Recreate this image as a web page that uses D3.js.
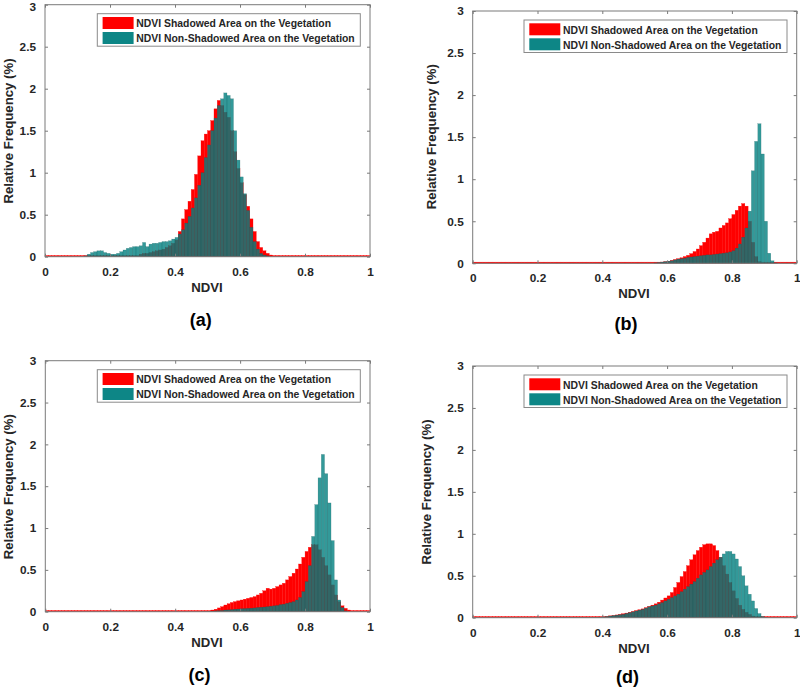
<!DOCTYPE html>
<html><head><meta charset="utf-8">
<script src="https://cdn.jsdelivr.net/npm/d3@7"></script>
<style>body{margin:0;background:#fff}svg{display:block}</style>
</head><body><svg id="chart" width="800" height="689"></svg>
<script>
// ---------- data ----------
const xTicks = [0, 0.2, 0.4, 0.6, 0.8, 1];
const yTicks = [0, 0.5, 1, 1.5, 2, 2.5, 3];
const seriesNames = ["NDVI Shadowed Area on the Vegetation", "NDVI Non-Shadowed Area on the Vegetation"];
const panelLabels = ["(a)", "(b)", "(c)", "(d)"];
const xLabel = "NDVI";
const yLabel = "Relative Frequency (%)";
const binWidth = 0.01; // NDVI bins 0..1, 100 bins

// relative frequency (%) per bin, bin k = [k*0.01, (k+1)*0.01)
const redA = [
 0,0,0,0,0,0,0,0,0,0, 0,0,0,0,0,0,0,0,0,0, 0,0,0,0,0,0,0,0,0.01,0.03,
 0.04,0.04,0.05,0.06,0.07,0.08,0.09,0.11,0.13,0.16,
 0.2,0.3,0.45,0.56,0.66,0.8,0.98,1.2,1.38,1.46,
 1.5,1.62,1.76,1.86,1.8,1.72,1.66,1.5,1.25,1.05,
 0.88,0.74,0.6,0.45,0.3,0.18,0.11,0.07,0.04,0.02,
 0.01,0.005,0,0,0,0,0,0,0,0, 0,0,0,0,0,0,0,0,0,0, 0,0,0,0,0,0,0,0,0,0];
const tealA = [
 0,0,0,0,0,0,0,0,0,0, 0,0,0.01,0.03,0.05,0.06,0.07,0.07,0.05,0.04,
 0.03,0.03,0.04,0.06,0.08,0.1,0.11,0.12,0.12,0.13,
 0.17,0.12,0.15,0.16,0.16,0.17,0.18,0.18,0.19,0.21,
 0.23,0.27,0.32,0.4,0.48,0.58,0.7,0.85,1.0,1.18,
 1.33,1.5,1.65,1.8,1.88,1.95,1.92,1.88,1.5,1.15,
 0.95,0.75,0.55,0.35,0.18,0.09,0.04,0.02,0.01,0,
 0,0,0,0,0,0,0,0,0,0, 0,0,0,0,0,0,0,0,0,0, 0,0,0,0,0,0,0,0,0,0];
const redB = [
 0,0,0,0,0,0,0,0,0,0, 0,0,0,0,0,0,0,0,0,0, 0,0,0,0,0,0,0,0,0,0,
 0,0,0,0,0,0,0,0,0,0, 0,0,0,0,0,0,0,0,0,0,
 0,0,0,0,0,0,0.005,0.01,0.015,0.02,
 0.025,0.035,0.045,0.055,0.065,0.08,0.095,0.115,0.14,0.17,
 0.21,0.25,0.3,0.35,0.37,0.38,0.42,0.45,0.48,0.53,
 0.58,0.63,0.68,0.71,0.68,0.5,0.25,0.08,0.02,0.005,
 0,0,0,0,0,0,0,0,0,0];
const tealB = [
 0,0,0,0,0,0,0,0,0,0, 0,0,0,0,0,0,0,0,0,0, 0,0,0,0,0,0,0,0,0,0,
 0,0,0,0,0,0,0,0,0,0, 0,0,0,0,0,0,0,0,0,0,
 0,0,0,0,0,0,0.005,0.01,0.015,0.02,
 0.025,0.03,0.04,0.05,0.055,0.06,0.07,0.075,0.08,0.085,
 0.09,0.095,0.1,0.1,0.105,0.11,0.115,0.12,0.125,0.135,
 0.15,0.18,0.23,0.31,0.42,0.62,1.1,1.45,1.66,1.3,
 0.5,0.12,0.03,0.005,0,0,0,0,0,0];
const redC = [
 0,0,0,0,0,0,0,0,0,0, 0,0,0,0,0,0,0,0,0,0, 0,0,0,0,0,0,0,0,0,0,
 0,0,0,0,0,0,0,0,0,0, 0,0,0,0,0,0,0,0,0.005,0.008,
 0.012,0.02,0.03,0.045,0.06,0.08,0.095,0.11,0.12,0.13,
 0.14,0.15,0.16,0.17,0.18,0.2,0.22,0.25,0.28,0.27,
 0.28,0.3,0.32,0.34,0.38,0.42,0.46,0.51,0.57,0.65,
 0.72,0.77,0.8,0.8,0.74,0.65,0.55,0.44,0.32,0.2,
 0.12,0.07,0.04,0.02,0.01,0.005,0,0,0,0];
const tealC = [
 0,0,0,0,0,0,0,0,0,0, 0,0,0,0,0,0,0,0,0,0, 0,0,0,0,0,0,0,0,0,0,
 0,0,0,0,0,0,0,0,0,0, 0,0,0,0,0,0,0,0,0.002,0.003,
 0.005,0.007,0.01,0.012,0.015,0.02,0.022,0.025,0.03,0.032,
 0.035,0.037,0.04,0.042,0.045,0.05,0.053,0.056,0.06,0.065,
 0.07,0.075,0.085,0.09,0.1,0.11,0.12,0.14,0.17,0.24,
 0.36,0.55,0.9,1.28,1.6,1.88,1.65,1.3,0.85,0.38,
 0.14,0.05,0.01,0,0,0,0,0,0,0];
const redD = [
 0,0,0,0,0,0,0,0,0,0, 0,0,0,0,0,0,0,0,0.005,0.01,
 0.01,0.006,0.004,0.004,0.004,0.004,0.004,0.004,0.004,0.004,
 0.004,0.004,0.004,0.004,0.004,0.005,0.006,0.007,0.008,0.01,
 0.012,0.017,0.022,0.027,0.033,0.04,0.047,0.055,0.065,0.075,
 0.085,0.095,0.105,0.12,0.135,0.15,0.165,0.185,0.21,0.235,
 0.26,0.3,0.36,0.42,0.49,0.55,0.62,0.69,0.75,0.8,
 0.84,0.87,0.88,0.88,0.86,0.8,0.72,0.62,0.52,0.42,
 0.32,0.23,0.15,0.1,0.065,0.04,0.02,0.01,0.005,0,
 0,0,0,0,0,0,0,0,0,0];
const tealD = [
 0,0,0,0,0,0,0,0,0,0, 0,0,0,0,0,0,0,0,0,0, 0,0,0,0,0.004,0.005,0.005,0.005,0.005,0.005,
 0.005,0.005,0.005,0.005,0.005,0.005,0.006,0.006,0.007,0.008,
 0.01,0.015,0.02,0.025,0.03,0.035,0.04,0.05,0.06,0.07,
 0.08,0.09,0.1,0.115,0.13,0.14,0.15,0.165,0.18,0.2,
 0.22,0.24,0.26,0.28,0.31,0.34,0.37,0.4,0.43,0.47,
 0.51,0.54,0.57,0.61,0.65,0.69,0.72,0.76,0.79,0.79,
 0.76,0.7,0.61,0.5,0.38,0.28,0.2,0.11,0.05,0.015,
 0.005,0,0,0,0,0,0,0,0,0];

const panelData = [[redA, tealA], [redB, tealB], [redC, tealC], [redD, tealD]];

// ---------- layout ----------
const layout = [
 {l:45,    r:370,   t:4.7,   b:256.7, ylx:12.6,  yly:131,   xlx:207, xly:291.7, plx:200.7, ply:326},
 {l:472.7, r:796.7, t:11,    b:263.3, ylx:435.8, yly:136.7, xlx:634, xly:297.7, plx:626,   ply:330},
 {l:45.3,  r:370,   t:360.7, b:611.7, ylx:12.8,  yly:486.7, xlx:207, xly:646.7, plx:199.5, ply:681},
 {l:472.7, r:796.7, t:366,   b:617.7, ylx:430.5, yly:492,   xlx:634, xly:653.3, plx:627.5, ply:683}
];
const colors = {red: "#ff0000", teal: "#008080", axis: "#7a7a7a", text: "#262626"};
const FONT = "'Liberation Sans', Arial, Helvetica, sans-serif";

const svg = d3.select("#chart");

layout.forEach((L, i) => {
  const [red, teal] = panelData[i];
  const x = d3.scaleLinear().domain([0, 1]).range([L.l, L.r]);
  const y = d3.scaleLinear().domain([0, 3]).range([L.b, L.t]);
  const g = svg.append("g");

  // red histogram
  g.append("g").selectAll("rect").data(red).join("rect")
    .attr("x", (d, k) => x(k * binWidth))
    .attr("width", (d, k) => x((k + 1) * binWidth) - x(k * binWidth))
    .attr("y", d => Math.min(y(d), y(0) - 1.2))
    .attr("height", d => Math.max(y(0) - y(d), 1.2))
    .attr("fill", colors.red)
    .attr("stroke", colors.red).attr("stroke-width", 0.3);

  // teal histogram (semi-transparent)
  g.append("g").selectAll("rect").data(teal.map((v, k) => ({v, k})).filter(d => d.v > 0)).join("rect")
    .attr("x", d => x(d.k * binWidth))
    .attr("width", d => x((d.k + 1) * binWidth) - x(d.k * binWidth))
    .attr("y", d => y(d.v))
    .attr("height", d => y(0) - y(d.v))
    .attr("fill", colors.teal).attr("fill-opacity", 0.8)
    .attr("stroke", "#0a5050").attr("stroke-width", 0.35).attr("stroke-opacity", 0.45);

  // box
  g.append("rect").attr("x", L.l).attr("y", L.t)
    .attr("width", L.r - L.l).attr("height", L.b - L.t)
    .attr("fill", "none").attr("stroke", colors.axis).attr("stroke-width", 1);

  // axes (ticks inward, both sides)
  const fmt = d => d3.format("")(d);
  const styleAxis = sel => {
    sel.select(".domain").remove();
    sel.selectAll(".tick line").attr("stroke", colors.axis);
    sel.selectAll(".tick text").attr("fill", colors.text)
      .attr("font-family", FONT).attr("font-weight", "bold").attr("font-size", 11.8);
  };
  g.append("g").attr("transform", `translate(0,${L.b})`)
    .call(d3.axisBottom(x).tickValues(xTicks).tickFormat(fmt).tickSizeInner(-3).tickSizeOuter(0).tickPadding(10.5))
    .call(styleAxis);
  g.append("g").attr("transform", `translate(0,${L.t})`)
    .call(d3.axisTop(x).tickValues(xTicks).tickFormat("").tickSizeInner(-3).tickSizeOuter(0))
    .call(styleAxis);
  const yAx = g.append("g").attr("transform", `translate(${L.l},0)`)
    .call(d3.axisLeft(y).tickValues(yTicks).tickFormat(fmt).tickSizeInner(-3).tickSizeOuter(0).tickPadding(9))
    .call(styleAxis);
  // keep the top label inside the page
  yAx.selectAll(".tick text").filter(d => y(d) < 7).attr("y", d => 7 - y(d));
  g.append("g").attr("transform", `translate(${L.r},0)`)
    .call(d3.axisRight(y).tickValues(yTicks).tickFormat("").tickSizeInner(-3).tickSizeOuter(0))
    .call(styleAxis);

  // axis labels
  g.append("text").attr("x", L.xlx).attr("y", L.xly).attr("text-anchor", "middle")
    .attr("font-family", FONT).attr("font-weight", "bold").attr("font-size", 13.2)
    .attr("fill", colors.text).text(xLabel);
  g.append("text").attr("transform", `translate(${L.ylx},${L.yly}) rotate(-90)`)
    .attr("text-anchor", "middle")
    .attr("font-family", FONT).attr("font-weight", "bold").attr("font-size", 13.2)
    .attr("fill", colors.text).text(yLabel);
  // panel label
  g.append("text").attr("x", L.plx).attr("y", L.ply).attr("text-anchor", "middle")
    .attr("font-family", FONT).attr("font-weight", "bold").attr("font-size", 18)
    .attr("fill", "#000").text(panelLabels[i]);

  // legend
  const lw = 263, lh = 32.5;
  const lx = L.r - 9.7 - lw, ly = L.t + 9;
  const lg = g.append("g").attr("transform", `translate(${lx},${ly})`);
  lg.append("rect").attr("width", lw).attr("height", lh)
    .attr("fill", "#fff").attr("stroke", "#8a8a8a").attr("stroke-width", 1);
  const swColors = [[colors.red, 1], [colors.teal, 0.95]];
  seriesNames.forEach((name, j) => {
    lg.append("rect").attr("x", 5.3).attr("y", 3.3 + j * 15).attr("width", 31).attr("height", 12)
      .attr("fill", swColors[j][0]).attr("fill-opacity", swColors[j][1]);
    lg.append("text").attr("x", 39).attr("y", 13.5 + j * 15)
      .attr("font-family", FONT).attr("font-weight", "bold").attr("font-size", 10.4)
      .attr("fill", colors.text).text(name);
  });
});
</script>
</body></html>
